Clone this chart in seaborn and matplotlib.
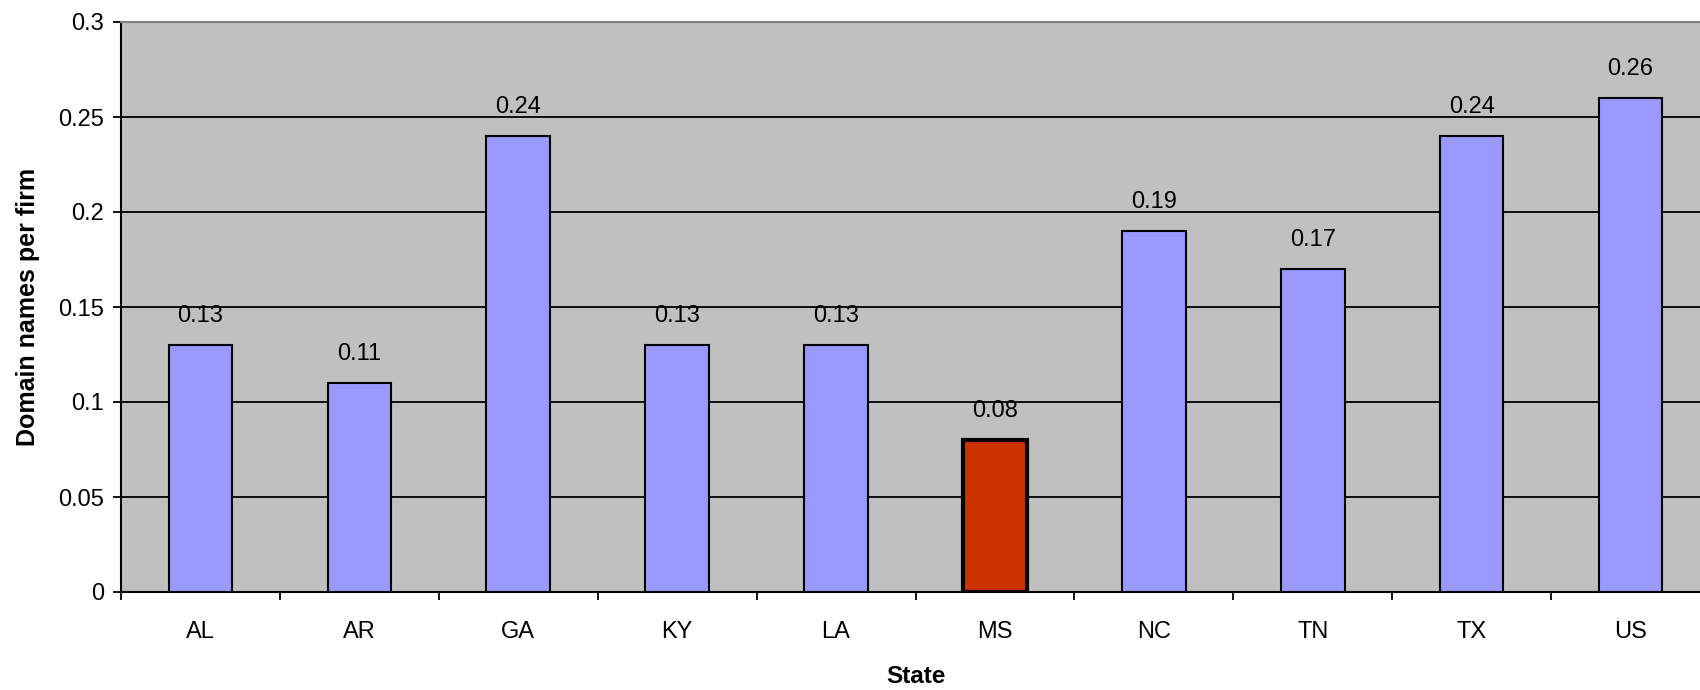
import matplotlib
matplotlib.use("Agg")
import matplotlib.pyplot as plt
import seaborn as sns
import pandas as pd

states = ["AL", "AR", "GA", "KY", "LA", "MS", "NC", "TN", "TX", "US"]
values = [0.13, 0.11, 0.24, 0.13, 0.13, 0.08, 0.19, 0.17, 0.24, 0.26]
bar_colors = ["#9999FF"] * 5 + ["#CC3300"] + ["#9999FF"] * 4
yticks = [0, 0.05, 0.1, 0.15, 0.2, 0.25, 0.3]
ytick_labels = ["0", "0.05", "0.1", "0.15", "0.2", "0.25", "0.3"]

sns.set_style("white")
plt.rcParams["font.family"] = ["Liberation Sans", "DejaVu Sans"]
plt.rcParams["text.color"] = "black"
plt.rcParams["axes.labelcolor"] = "black"
plt.rcParams["xtick.color"] = "black"
plt.rcParams["ytick.color"] = "black"

df = pd.DataFrame({"State": states, "Value": values})

fig = plt.figure(figsize=(17, 6.9), dpi=100)
W, H = 1700, 690
left, right, top, bottom = 121, 1710, 22, 592
ax = fig.add_axes([left / W, 1 - bottom / H, (right - left) / W, (bottom - top) / H])
ax.set_facecolor("#C0C0C0")

sns.barplot(data=df, x="State", y="Value", hue="State", palette=bar_colors,
            saturation=1, legend=False, width=0.4, edgecolor="black",
            linewidth=1.5, ax=ax, zorder=3)
for p, s in zip(ax.patches, states):
    if s == "MS":
        p.set_linewidth(3)

ax.set_xlim(-0.5, len(states) - 0.5)
ax.set_ylim(0, 0.3)
ax.set_yticks(yticks)
ax.set_yticklabels(ytick_labels)
ax.yaxis.grid(True, color="black", linewidth=1.3, zorder=1)
ax.set_axisbelow(True)

ax.set_xticks([i + 0.5 for i in range(-1, len(states))], minor=True)
ax.set_xticks(range(len(states)))
ax.set_xticklabels(states)
ax.tick_params(axis="x", which="major", length=0, pad=21, labelsize=17, labelcolor="black")
ax.tick_params(axis="x", which="minor", length=6, width=1.3, color="black", direction="out", bottom=True)
ax.tick_params(axis="y", length=6, width=1.3, color="black", direction="out", left=True, pad=6,
               labelsize=17, labelcolor="black")

for sp in ["left", "bottom"]:
    ax.spines[sp].set_color("black")
    ax.spines[sp].set_linewidth(1.5)
ax.spines["top"].set_color("#808080")
ax.spines["top"].set_linewidth(1.5)
ax.spines["right"].set_visible(False)

for i, v in enumerate(values):
    ax.annotate(f"{v:g}", (i, v), xytext=(0, 21), textcoords="offset points",
                ha="center", va="center", fontsize=17, color="black", zorder=5)

ax.set_xlabel("State", fontsize=17.5, fontweight="bold", labelpad=15.5, color="black")
ax.set_ylabel("Domain names per firm", fontsize=18, fontweight="bold", labelpad=13, color="black")

fig.savefig("out.png", dpi=100)
